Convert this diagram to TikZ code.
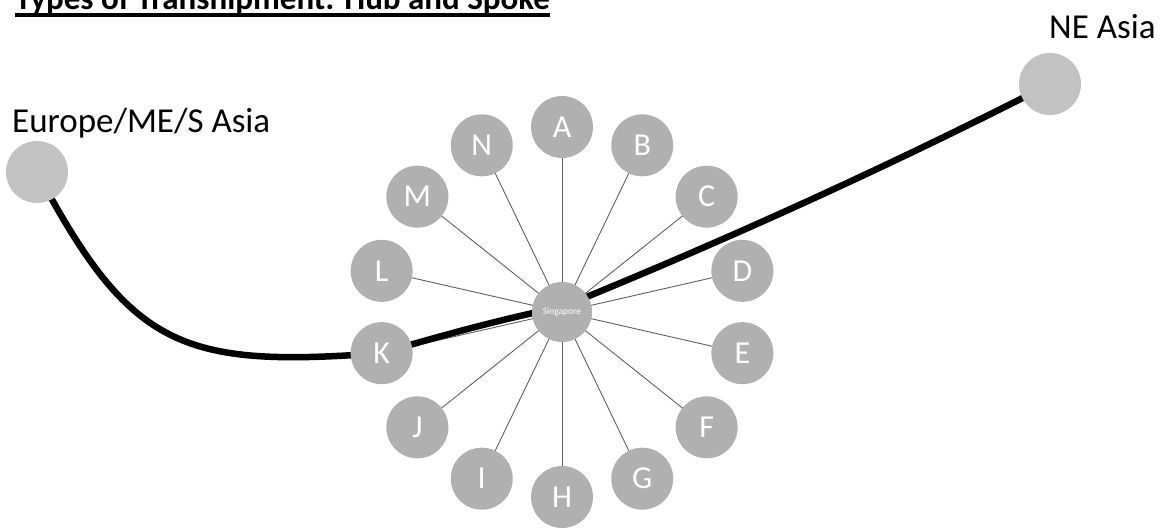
\documentclass[tikz,border=0pt]{standalone}
\usepackage{fontspec}
\setmainfont{Carlito}
\usetikzlibrary{backgrounds,calc}
\definecolor{hubgray}{RGB}{176,176,176}
\definecolor{endgray}{RGB}{194,194,194}
\definecolor{spokegray}{RGB}{95,95,95}
\tikzset{
  portnode/.style={circle, fill=hubgray, text=white, inner sep=0pt, minimum size=62pt,
    font=\fontsize{32}{36}\selectfont},
  hubnode/.style={circle, fill=hubgray, text=white, inner sep=0pt, minimum size=60pt,
    font=\fontsize{9.5}{11}\selectfont},
  endnode/.style={circle, fill=endgray, inner sep=0pt, minimum size=62pt},
  regionlabel/.style={anchor=base west, inner sep=0pt, font=\fontsize{35}{40}\selectfont},
  spokeline/.style={draw=spokegray, line width=0.9pt},
  routeline/.style={draw=black, line width=6.5pt}
}
\begin{document}
\begin{tikzpicture}[x=1pt, y=-1pt]
\useasboundingbox (0,0) rectangle (1169,532);
% title (cut at the top edge, as in the reference)
\node[anchor=base west, inner sep=0pt, font=\bfseries\fontsize{33}{38}\selectfont] (title) at (15,10) {Types of Transhipment: Hub and Spoke};
\draw[line width=3.5pt] ([yshift=-5pt]title.base west) -- ([yshift=-5pt]title.base east);
% hub
\node[hubnode] (sg) at (562,312) {Singapore};
% spoke nodes
\foreach \l [count=\i from 0] in {A,B,C,D,E,F,G,H,I,J,K,L,M,N} {
  \node[portnode] (\l) at ($(562,312)+({-90+\i*360/14}:185)$) {\l};
}
% end regions
\node[endnode] (eu) at (37,172) {};
\node[endnode] (ne) at (1050,84) {};
\node[regionlabel] (eulabel) at (12,132) {Europe/ME/S Asia};
\node[regionlabel] (nelabel) at (1049,39) {NE Asia};
\begin{pgfonlayer}{background}
  \foreach \l in {A,B,C,D,E,F,G,H,I,J,K,L,M,N} {
    \draw[spokeline] (sg.center) -- (\l.center);
  }
  \draw[routeline] (eu.center) .. controls (131,349) and (182,368) .. (K.center)
     .. controls (440,336) and (505,318) .. ([yshift=5pt]sg.center)
     .. controls (722,242) and (890,166) .. (ne.center);
\end{pgfonlayer}
\end{tikzpicture}
\end{document}
